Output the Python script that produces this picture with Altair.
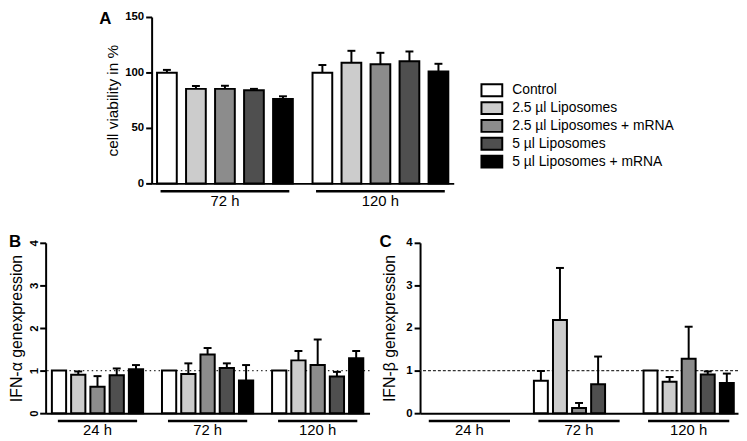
import altair as alt
import pandas as pd

series = ["Control", "2.5 µl Liposomes", "2.5 µl Liposomes + mRNA",
          "5 µl Liposomes", "5 µl Liposomes + mRNA"]
fills = ["#ffffff", "#cccccc", "#8c8c8c", "#4f4f4f", "#000000"]

# Panel A: cell viability (%)
groups_a = ["72 h", "120 h"]
a_72_mean = [99.7, 85.2, 85.2, 84.0, 76.1]
a_72_top = [102.3, 87.8, 88.0, 85.2, 78.5]
a_120_mean = [99.7, 108.7, 107.3, 110.2, 100.9]
a_120_top = [106.7, 119.5, 117.7, 118.9, 107.8]

# Panel B: IFN-alpha gene expression
groups_bc = ["24 h", "72 h", "120 h"]
b_24_mean = [1.0, 0.90, 0.62, 0.89, 1.03]
b_24_top = [None, 0.98, 0.87, 1.05, 1.13]
b_72_mean = [1.0, 0.92, 1.38, 1.06, 0.77]
b_72_top = [None, 1.17, 1.53, 1.17, 1.13]
b_120_mean = [1.0, 1.24, 1.13, 0.86, 1.29]
b_120_top = [None, 1.46, 1.73, 0.97, 1.46]

# Panel C: IFN-beta gene expression
c_24_mean = [None, None, None, None, None]
c_24_top = [None, None, None, None, None]
c_72_mean = [0.76, 2.19, 0.12, 0.68, None]
c_72_top = [0.99, 3.41, 0.24, 1.33, None]
c_120_mean = [1.0, 0.74, 1.28, 0.91, 0.71]
c_120_top = [None, 0.85, 2.03, 0.98, 0.93]


def build(groups, means, tops):
    rows = []
    for g, ms, ts in zip(groups, means, tops):
        for s, m, t in zip(series, ms, ts):
            rows.append({"group": g, "series": s,
                         "mean": float("nan") if m is None else m,
                         "top": float("nan") if t is None else t})
    return pd.DataFrame(rows)


df_a = build(groups_a, [a_72_mean, a_120_mean], [a_72_top, a_120_top])
df_b = build(groups_bc, [b_24_mean, b_72_mean, b_120_mean], [b_24_top, b_72_top, b_120_top])
df_c = build(groups_bc, [c_24_mean, c_72_mean, c_120_mean], [c_24_top, c_72_top, c_120_top])

FONT = "Liberation Sans"


def panel(df, groups, ydom, yvals, w, h, ytitle, title_x, title_size, letter,
          letter_x, letter_y, px_inner, px_outer, po_inner, under_size,
          label_kw, ref_dash=None, legend=None):
    xenc = alt.X("group:N",
                 scale=alt.Scale(domain=groups, paddingInner=px_inner, paddingOuter=px_outer),
                 axis=alt.Axis(title=None, ticks=False, labelAngle=0, labelFontSize=15,
                               labelPadding=10, domainWidth=2, domainColor="black",
                               labelColor="black", grid=False, labelFont=FONT))
    yaxis = alt.Axis(values=yvals, title=ytitle, grid=False, tickSize=6, tickWidth=2,
                     tickColor="black", domainWidth=2, domainColor="black",
                     labelFontWeight="bold", labelFontSize=11.5, labelColor="black",
                     labelFont=FONT, titleFont=FONT,
                     titleFontSize=title_size, titleFontWeight="normal", titleColor="black",
                     titleX=title_x, titleY=h / 2, titleAngle=270, titleAlign="center",
                     titleBaseline="middle", **label_kw)
    yscale = alt.Scale(domain=ydom, nice=False, zero=True)
    off = alt.XOffset("series:N", scale=alt.Scale(domain=series, paddingInner=po_inner,
                                                   paddingOuter=po_inner / 2))
    fill = alt.Fill("series:N", scale=alt.Scale(domain=series, range=fills), legend=legend)

    layers = []
    if ref_dash is not None:
        ref = alt.Chart(pd.DataFrame({"r": [1]})).mark_rule(
            strokeDash=ref_dash, color="#333333", strokeWidth=1.3
        ).encode(y=alt.Y("r:Q", scale=yscale, axis=yaxis))
        layers.append(ref)

    bars = alt.Chart(df.dropna(subset=["mean"])).mark_bar(
        stroke="black", strokeWidth=2
    ).encode(x=xenc, xOffset=off, y=alt.Y("mean:Q", scale=yscale, axis=yaxis), fill=fill)
    errdf = df.dropna(subset=["top"])
    err = alt.Chart(errdf).mark_rule(color="black", strokeWidth=2).encode(
        x=xenc, xOffset=off, y=alt.Y("mean:Q", scale=yscale, axis=yaxis), y2="top:Q")
    cap = alt.Chart(errdf).mark_tick(orient="horizontal", size=8, thickness=2,
                                     color="black", opacity=1).encode(
        x=xenc, xOffset=off, y=alt.Y("top:Q", scale=yscale, axis=yaxis))
    under = alt.Chart(pd.DataFrame({"group": groups})).mark_tick(
        orient="horizontal", size=under_size, thickness=2.5, color="black", opacity=1
    ).encode(x=xenc, y=alt.value(h + 8))
    let = alt.Chart(pd.DataFrame({"t": [letter]})).mark_text(
        fontSize=17, fontWeight="bold", align="left", baseline="alphabetic",
        color="black", font=FONT
    ).encode(text="t:N", x=alt.value(letter_x), y=alt.value(letter_y))
    layers += [bars, err, cap, under, let]
    return alt.layer(*layers).properties(width=w, height=h)


legend_a = alt.Legend(title=None, orient="none", legendX=335.5, legendY=66,
                      symbolType="M-1.5,-0.857H1.5V0.857H-1.5Z", symbolSize=196,
                      symbolStrokeColor="black", symbolStrokeWidth=2, symbolOpacity=1,
                      labelFontSize=14, labelOffset=12.5, rowPadding=-2.2, padding=0,
                      labelColor="black", labelFont=FONT, labelLimit=300)

chart_a = panel(df_a, groups_a, [0, 150], [0, 50, 100, 150], 305, 168,
                "cell viability in %", -39, 15.5, "A", -53, 7,
                0.067, 0.005, 0.32, 130, {"labelPadding": 2}, legend=legend_a)

chart_b = panel(df_b, groups_bc, [0, 4], [0, 1, 2, 3, 4], 327, 172,
                "IFN-α genexpression", -29, 16, "B", -37, 4,
                0.126, 0.034, 0.26, 80,
                {"labelPadding": 2, "labelAngle": 270, "labelAlign": "center",
                 "labelBaseline": "alphabetic"},
                ref_dash=[1.5, 3])

chart_c = panel(df_c, groups_bc, [0, 4], [0, 1, 2, 3, 4], 321, 172,
                "IFN-β genexpression", -31, 16, "C", -41, 4,
                0.13, 0.015, 0.27, 82, {"labelPadding": 2},
                ref_dash=[3, 2])

spacer = alt.Chart(pd.DataFrame({"v": [0]})).mark_point(opacity=0).encode(
    x=alt.value(0), y=alt.value(0)).properties(width=45, height=10)


def indep(c):
    return c.resolve_scale(fill="independent", xOffset="independent",
                           x="independent", y="independent").resolve_legend(fill="independent")


row1 = indep(alt.hconcat(spacer, chart_a, spacing=9))
row2 = indep(alt.hconcat(chart_b, chart_c, spacing=9))

chart = indep(alt.vconcat(row1, row2, spacing=25)).properties(
    padding=0, background="white"
).configure(font=FONT).configure_view(stroke=None)

chart.save("out.html", embed_options={"renderer": "svg", "actions": False})
